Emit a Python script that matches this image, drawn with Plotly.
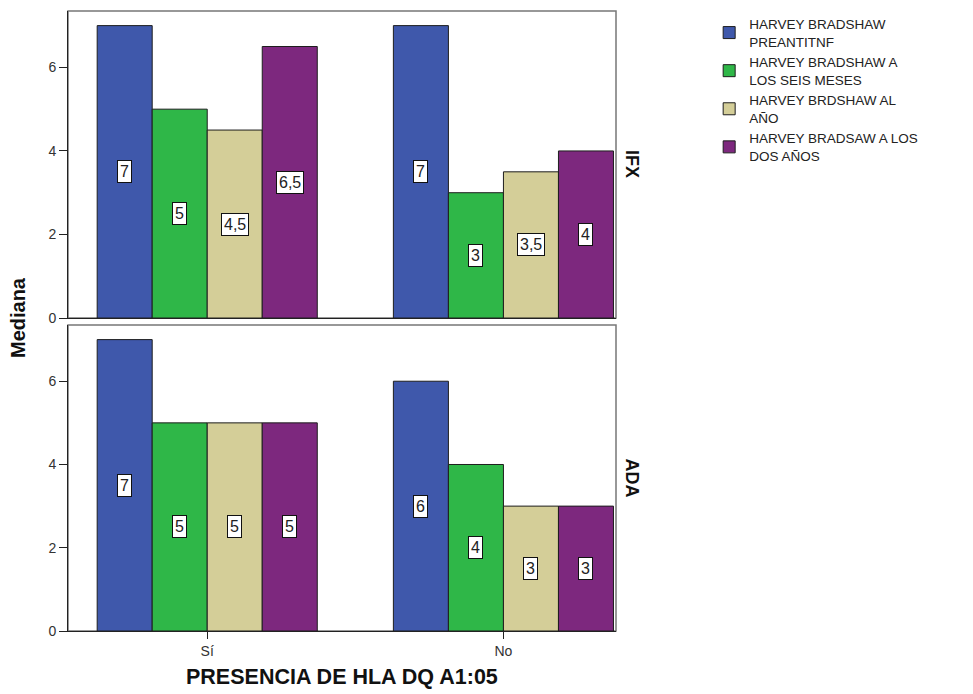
import plotly.graph_objects as go

# ---------------- data ----------------
categories = ["Sí", "No"]
panels = ["IFX", "ADA"]
series_names = [
    "HARVEY BRADSHAW<br>PREANTITNF",
    "HARVEY BRADSHAW A<br>LOS SEIS MESES",
    "HARVEY BRDSHAW AL<br>AÑO",
    "HARVEY BRADSAW A LOS<br>DOS AÑOS",
]
ifx_preantitnf = [7, 7]
ifx_seis_meses = [5, 3]
ifx_al_ano = [4.5, 3.5]
ifx_dos_anos = [6.5, 4]
ada_preantitnf = [7, 6]
ada_seis_meses = [5, 4]
ada_al_ano = [5, 3]
ada_dos_anos = [5, 3]
y_ticks = [0, 2, 4, 6]

colors = ["#3F58AB", "#2FB748", "#D4CE98", "#7D287E"]
FONT = "Liberation Sans, Arial, sans-serif"

panel_series = {
    "IFX": [ifx_preantitnf, ifx_seis_meses, ifx_al_ano, ifx_dos_anos],
    "ADA": [ada_preantitnf, ada_seis_meses, ada_al_ano, ada_dos_anos],
}

BARGAP = 0.257
group_w = 1 - BARGAP
bar_w = group_w / len(series_names)

fig = go.Figure()
annotations = []
axes = [("x", "y"), ("x2", "y2")]
for p_i, panel in enumerate(panels):
    xa, ya = axes[p_i]
    for s_i, (name, col) in enumerate(zip(series_names, colors)):
        vals = panel_series[panel][s_i]
        fig.add_trace(go.Bar(
            x=categories, y=vals, name=name,
            marker=dict(color=col, line=dict(color="#1e1e1e", width=1)),
            xaxis=xa, yaxis=ya,
            legendgroup=name, showlegend=(p_i == 0),
            hoverinfo="skip",
        ))
        for c_i, v in enumerate(vals):
            xpos = c_i - group_w / 2 + (s_i + 0.5) * bar_w
            annotations.append(dict(
                x=xpos, y=v / 2, xref=xa, yref=ya,
                text=f"{v:g}".replace(".", ","), showarrow=False,
                font=dict(family=FONT, size=16, color="#222"),
                bgcolor="white", bordercolor="#111", borderwidth=1, borderpad=2,
            ))
    # strip label
    annotations.append(dict(
        x=1.03, xref="paper", y=0.5, yref=f"{ya} domain",
        text=f"<b>{panel}</b>", showarrow=False, textangle=90,
        font=dict(family=FONT, size=18, color="#111"),
        xanchor="center", yanchor="middle",
    ))

annotations.append(dict(
    x=-0.091, y=0.505, xref="paper", yref="paper", text="<b>Mediana</b>",
    showarrow=False, textangle=-90, font=dict(family=FONT, size=20, color="#111"),
    xanchor="center", yanchor="middle",
))
annotations.append(dict(
    x=0.5, y=-0.074, xref="paper", yref="paper", text="<b>PRESENCIA DE HLA DQ A1:05</b>",
    showarrow=False, font=dict(family=FONT, size=21.5, color="#111"),
    xanchor="center", yanchor="middle",
))

top_dom = [0.5048, 1.0]
bot_dom = [0.0, 0.4935]
xr = [-0.47, 1.38]
yr = [0, 7.35]

common_y = dict(range=yr, tickvals=y_ticks, ticks="outside", ticklen=8, tickcolor="#222",
                showline=True, linecolor="#222", linewidth=1, showgrid=False, zeroline=False,
                tickfont=dict(family=FONT, size=14, color="#333"))
common_x = dict(range=xr, type="category", categoryorder="array", categoryarray=categories,
                showline=True, linecolor="#222", linewidth=1, showgrid=False, zeroline=False,
                tickfont=dict(family=FONT, size=14, color="#333"))

shapes = []
for xa_ref, ya_ref in [("x domain", "y domain"), ("x2 domain", "y2 domain")]:
    shapes.append(dict(type="rect", xref=xa_ref, yref=ya_ref, x0=0, x1=1, y0=0, y1=1,
                       line=dict(color="#777", width=1.5), layer="below"))

# page body adds an 8px offset; margins compensate for it
fig.update_layout(
    width=965, height=686,
    margin=dict(l=60, r=357, t=3, b=63, autoexpand=False),
    paper_bgcolor="white", plot_bgcolor="white",
    barmode="group", bargap=BARGAP, bargroupgap=0,
    xaxis=dict(common_x, anchor="y", showticklabels=False, ticks=""),
    yaxis=dict(common_y, domain=top_dom, anchor="x"),
    xaxis2=dict(common_x, anchor="y2", matches="x", ticks="outside", ticklen=7, tickcolor="#222"),
    yaxis2=dict(common_y, domain=bot_dom, anchor="x2"),
    legend=dict(x=1.17, y=1.004, xanchor="left", yanchor="top",
                font=dict(family=FONT, size=13.5, color="#222"),
                itemwidth=30, tracegroupgap=0, bgcolor="rgba(0,0,0,0)"),
    annotations=annotations,
    shapes=shapes,
)
fig.write_html("out.html")
